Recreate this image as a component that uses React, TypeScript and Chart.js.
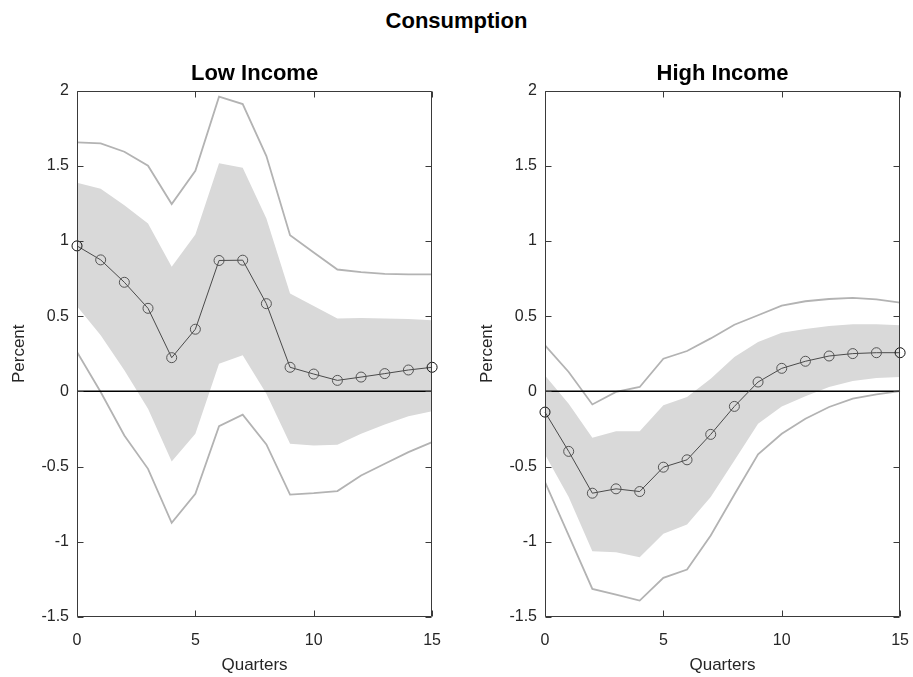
import React, { useEffect, useRef } from 'react';
import { Chart, registerables } from 'chart.js';

Chart.register(...registerables);

const FONT = '"Liberation Sans", Arial, Helvetica, sans-serif';

const mainTitle = 'Consumption';
const panelTitles = ['Low Income', 'High Income'];
const xLabel = 'Quarters';
const yLabel = 'Percent';

const quarters = [0, 1, 2, 3, 4, 5, 6, 7, 8, 9, 10, 11, 12, 13, 14, 15];
const xTicks = [0, 5, 10, 15];
const yTicks = [-1.5, -1, -0.5, 0, 0.5, 1, 1.5, 2];

// Low income
const lowMedian = [0.967, 0.874, 0.725, 0.552, 0.224, 0.413, 0.87, 0.872, 0.583, 0.16, 0.115, 0.073, 0.095, 0.118, 0.142, 0.16];
const lowInnerUpper = [1.386, 1.347, 1.238, 1.116, 0.828, 1.043, 1.517, 1.486, 1.149, 0.65, 0.568, 0.484, 0.488, 0.484, 0.481, 0.473];
const lowInnerLower = [0.565, 0.373, 0.14, -0.115, -0.466, -0.282, 0.184, 0.24, -0.016, -0.348, -0.36, -0.355, -0.282, -0.22, -0.166, -0.133];
const lowOuterUpper = [1.655, 1.648, 1.593, 1.5, 1.245, 1.466, 1.959, 1.91, 1.564, 1.038, 0.923, 0.81, 0.792, 0.781, 0.777, 0.777];
const lowOuterLower = [0.262, -0.004, -0.293, -0.515, -0.874, -0.681, -0.231, -0.155, -0.353, -0.686, -0.677, -0.663, -0.559, -0.481, -0.404, -0.337];

// High income
const highMedian = [-0.138, -0.399, -0.677, -0.648, -0.666, -0.504, -0.455, -0.286, -0.1, 0.062, 0.153, 0.2, 0.235, 0.251, 0.257, 0.257];
const highInnerUpper = [0.106, -0.082, -0.308, -0.266, -0.266, -0.093, -0.038, 0.084, 0.228, 0.328, 0.39, 0.415, 0.435, 0.446, 0.446, 0.44];
const highInnerLower = [-0.419, -0.703, -1.063, -1.069, -1.102, -0.947, -0.885, -0.703, -0.459, -0.215, -0.1, -0.033, 0.029, 0.069, 0.089, 0.095];
const highOuterUpper = [0.306, 0.129, -0.087, -0.004, 0.029, 0.217, 0.268, 0.352, 0.443, 0.506, 0.57, 0.599, 0.614, 0.621, 0.612, 0.59];
const highOuterLower = [-0.603, -0.958, -1.313, -1.351, -1.391, -1.24, -1.185, -0.958, -0.686, -0.419, -0.282, -0.182, -0.104, -0.049, -0.02, 0.002];

const pts = (arr: number[]) => arr.map((v, i) => ({ x: quarters[i], y: v }));

const boxPlugin = {
  id: 'matlabBox',
  afterDatasetsDraw(chart: any) {
    const { ctx, chartArea: a, scales } = chart;
    const xs = scales.x;
    const ys = scales.y;
    const L = Math.round(a.left) + 0.5;
    const R = Math.round(a.right) - 0.5;
    const T = Math.round(a.top) + 0.5;
    const B = Math.round(a.bottom) - 0.5;
    const tl = 6;
    ctx.save();
    ctx.strokeStyle = '#3a3a3a';
    ctx.lineWidth = 1;
    ctx.beginPath();
    ctx.rect(L, T, R - L, B - T);
    ctx.stroke();
    ctx.beginPath();
    xTicks.forEach((v) => {
      const px = Math.round(xs.getPixelForValue(v)) + 0.5;
      ctx.moveTo(px, B);
      ctx.lineTo(px, B - tl);
      ctx.moveTo(px, T);
      ctx.lineTo(px, T + tl);
    });
    yTicks.forEach((v) => {
      const py = Math.round(ys.getPixelForValue(v)) + 0.5;
      ctx.moveTo(L, py);
      ctx.lineTo(L + tl, py);
      ctx.moveTo(R, py);
      ctx.lineTo(R - tl, py);
    });
    ctx.stroke();
    ctx.restore();
  },
};

function makeConfig(title: string, median: number[], iu: number[], il: number[], ou: number[], ol: number[]): any {
  const n = quarters.length;
  return {
    type: 'line',
    data: {
      datasets: [
        {
          data: pts(median),
          borderColor: '#4a4a4a',
          borderWidth: 1,
          pointRadius: 5,
          pointHoverRadius: 5,
          pointBackgroundColor: 'rgba(0,0,0,0)',
          pointBorderColor: (c: any) => (c.dataIndex === 0 || c.dataIndex === n - 1 ? '#111111' : '#555555'),
          pointBorderWidth: 1,
          fill: false,
          clip: false,
        },
        {
          data: [{ x: xTicks[0], y: 0 }, { x: xTicks[xTicks.length - 1], y: 0 }],
          borderColor: '#000000',
          borderWidth: 1.5,
          pointRadius: 0,
          fill: false,
        },
        { data: pts(ou), borderColor: '#b3b3b3', borderWidth: 1.8, pointRadius: 0, fill: false },
        { data: pts(ol), borderColor: '#b3b3b3', borderWidth: 1.8, pointRadius: 0, fill: false },
        { data: pts(iu), borderColor: 'rgba(0,0,0,0)', borderWidth: 0, backgroundColor: '#d9d9d9', pointRadius: 0, fill: '+1' },
        { data: pts(il), borderColor: 'rgba(0,0,0,0)', borderWidth: 0, pointRadius: 0, fill: false },
      ],
    },
    options: {
      animation: false,
      responsive: false,
      devicePixelRatio: 1,
      events: [],
      layout: { padding: { left: 0, right: 0, top: 0, bottom: 0 } },
      plugins: {
        legend: { display: false },
        tooltip: { enabled: false },
        title: {
          display: true,
          text: title,
          fullSize: false,
          color: '#000000',
          font: { family: FONT, size: 22, weight: 'bold' },
          padding: { top: 61, bottom: 3.1 },
        },
      },
      scales: {
        x: {
          type: 'linear',
          min: xTicks[0],
          max: xTicks[xTicks.length - 1],
          afterBuildTicks: (s: any) => {
            s.ticks = xTicks.map((v) => ({ value: v }));
          },
          afterFit: (s: any) => {
            s.height = 60;
          },
          grid: { display: false, drawTicks: false },
          border: { display: false },
          ticks: {
            color: '#262626',
            font: { family: FONT, size: 16 },
            padding: 14,
            maxRotation: 0,
            autoSkip: false,
            callback: (v: any) => String(v),
          },
          title: {
            display: true,
            text: xLabel,
            color: '#262626',
            font: { family: FONT, size: 17 },
            padding: { top: 0, bottom: 1 },
          },
        },
        y: {
          type: 'linear',
          min: yTicks[0],
          max: yTicks[yTicks.length - 1],
          afterBuildTicks: (s: any) => {
            s.ticks = yTicks.map((v) => ({ value: v }));
          },
          afterFit: (s: any) => {
            s.width = 77;
          },
          grid: { display: false, drawTicks: false },
          border: { display: false },
          ticks: {
            color: '#262626',
            font: { family: FONT, size: 16 },
            padding: 8,
            autoSkip: false,
            callback: (v: any) => String(v),
          },
          title: {
            display: true,
            text: yLabel,
            color: '#262626',
            font: { family: FONT, size: 17 },
            padding: { top: 9.5, bottom: 0 },
          },
        },
      },
    },
    plugins: [boxPlugin],
  };
}

export default function App() {
  const leftRef = useRef<HTMLCanvasElement>(null);
  const rightRef = useRef<HTMLCanvasElement>(null);

  useEffect(() => {
    const c1 = new Chart(leftRef.current as HTMLCanvasElement, makeConfig(panelTitles[0], lowMedian, lowInnerUpper, lowInnerLower, lowOuterUpper, lowOuterLower));
    const c2 = new Chart(rightRef.current as HTMLCanvasElement, makeConfig(panelTitles[1], highMedian, highInnerUpper, highInnerLower, highOuterUpper, highOuterLower));
    return () => {
      c1.destroy();
      c2.destroy();
    };
  }, []);

  return (
    <div style={{ position: 'absolute', left: 0, top: 0, width: 913, height: 677, background: '#ffffff', overflow: 'hidden' }}>
      <div
        style={{
          position: 'absolute',
          left: 0,
          top: 10,
          width: 913,
          textAlign: 'center',
          fontFamily: FONT,
          fontWeight: 'bold',
          fontSize: 22,
          lineHeight: '22px',
          color: '#000000',
        }}
      >
        {mainTitle}
      </div>
      <canvas ref={leftRef} width={455} height={677} style={{ position: 'absolute', left: 0, top: 0, width: 455, height: 677 }} />
      <canvas ref={rightRef} width={455} height={677} style={{ position: 'absolute', left: 468, top: 0, width: 455, height: 677 }} />
    </div>
  );
}
